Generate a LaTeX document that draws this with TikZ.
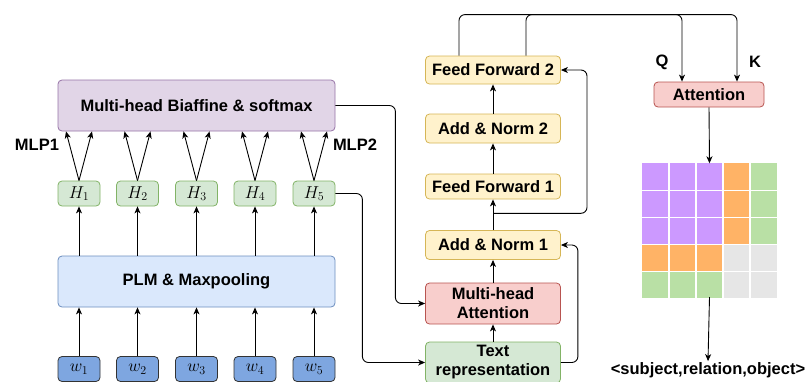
\documentclass[tikz,border=0pt]{standalone}
\usepackage{fontspec}
\setmainfont{Liberation Sans}
\usetikzlibrary{arrows.meta}
\definecolor{biapurple}{HTML}{E1D5E7}
\definecolor{biaedge}{HTML}{9673A6}
\definecolor{plmblue}{HTML}{DAE8FC}
\definecolor{plmedge}{HTML}{6C8EBF}
\definecolor{hgreen}{HTML}{D5E8D4}
\definecolor{hedge}{HTML}{82B366}
\definecolor{wblue}{HTML}{7EA6E0}
\definecolor{ffyellow}{HTML}{FFF2CC}
\definecolor{ffedge}{HTML}{D6B656}
\definecolor{attred}{HTML}{F8CECC}
\definecolor{attedge}{HTML}{B85450}
\definecolor{cellpurple}{HTML}{CC99FF}
\definecolor{cellorange}{HTML}{FFB366}
\definecolor{cellgreen}{HTML}{B9E0A5}
\definecolor{cellgray}{HTML}{E6E6E6}

\begin{document}
\begin{tikzpicture}[x=1pt, y=-1pt,
                    font=\fontsize{16.5}{19}\selectfont\bfseries,
                    box/.style={draw, rounded corners=4pt, line width=0.8pt, align=center, inner sep=0pt},
                    hbox/.style={box, fill=hgreen, draw=hedge, minimum width=42pt, minimum height=25pt},
                    wbox/.style={box, fill=wblue, draw=black!80, minimum width=42pt, minimum height=25pt},
                    ffbox/.style={box, fill=ffyellow, draw=ffedge, minimum width=135pt},
                    link/.style={line width=0.9pt, rounded corners=6pt},
                    arr/.style={link, -{Stealth[length=7pt, width=6pt, inset=2pt]}}]
                    \useasboundingbox (0,0) rectangle (808,381);

                    % left part: encoder and biaffine
                    \node[box, fill=biapurple, draw=biaedge, minimum width=277pt, minimum height=51pt] (bia) at (196.5,105.5) {Multi-head Biaffine \& softmax};
                    \node[box, fill=plmblue, draw=plmedge, minimum width=277pt, minimum height=51pt] (plm) at (196.5,281.5) {PLM \& Maxpooling};

                    \node[hbox] (h1) at (79,193.5) {$H_1$};
                    \node[hbox] (h2) at (137.5,193.5) {$H_2$};
                    \node[hbox] (h3) at (196.5,193.5) {$H_3$};
                    \node[hbox] (h4) at (255,193.5) {$H_4$};
                    \node[hbox] (h5) at (314,193.5) {$H_5$};

                    \node[wbox] (w1) at (79,369) {$w_1$};
                    \node[wbox] (w2) at (137.5,369) {$w_2$};
                    \node[wbox] (w3) at (196.5,369) {$w_3$};
                    \node[wbox] (w4) at (255,369) {$w_4$};
                    \node[wbox] (w5) at (314,369) {$w_5$};

                    \node (mlp1) at (37,145) {MLP1};
                    \node (mlp2) at (355,145) {MLP2};

                    \draw[arr] (w1.north) -- (w1.north |- plm.south);
                    \draw[arr] (w2.north) -- (w2.north |- plm.south);
                    \draw[arr] (w3.north) -- (w3.north |- plm.south);
                    \draw[arr] (w4.north) -- (w4.north |- plm.south);
                    \draw[arr] (w5.north) -- (w5.north |- plm.south);

                    \draw[arr] (h1.south |- plm.north) -- (h1.south);
                    \draw[arr] (h2.south |- plm.north) -- (h2.south);
                    \draw[arr] (h3.south |- plm.north) -- (h3.south);
                    \draw[arr] (h4.south |- plm.north) -- (h4.south);
                    \draw[arr] (h5.south |- plm.north) -- (h5.south);

                    \draw[arr] (h1.north) -- ([xshift=-13pt]h1.north |- bia.south);
                    \draw[arr] (h1.north) -- ([xshift=13pt]h1.north |- bia.south);
                    \draw[arr] (h2.north) -- ([xshift=-13pt]h2.north |- bia.south);
                    \draw[arr] (h2.north) -- ([xshift=13pt]h2.north |- bia.south);
                    \draw[arr] (h3.north) -- ([xshift=-13pt]h3.north |- bia.south);
                    \draw[arr] (h3.north) -- ([xshift=13pt]h3.north |- bia.south);
                    \draw[arr] (h4.north) -- ([xshift=-13pt]h4.north |- bia.south);
                    \draw[arr] (h4.north) -- ([xshift=13pt]h4.north |- bia.south);
                    \draw[arr] (h5.north) -- ([xshift=-13pt]h5.north |- bia.south);
                    \draw[arr] (h5.north) -- ([xshift=13pt]h5.north |- bia.south);

                    % middle part: transformer block
                    \node[ffbox, minimum height=28pt] (ff2) at (493,70) {Feed Forward 2};
                    \node[ffbox, minimum height=29pt] (an2) at (493,128.5) {Add \& Norm 2};
                    \node[ffbox, minimum height=25pt] (ff1) at (493,186.5) {Feed Forward 1};
                    \node[ffbox, minimum height=29pt] (an1) at (493,245) {Add \& Norm 1};
                    \node[box, fill=attred, draw=attedge, minimum width=135pt, minimum height=41pt] (mha) at (493,303.5) {Multi-head\\Attention};
                    \node[box, fill=hgreen, draw=hedge, minimum width=135pt, minimum height=41pt] (txt) at (493,362.5) {Text\\representation};
                    \coordinate (res) at (493,213.3);

                    \draw[arr] (txt) -- (mha);
                    \draw[arr] (mha) -- (an1);
                    \draw[arr] (an1) -- (ff1);
                    \draw[arr] (ff1) -- (an2);
                    \draw[arr] (an2) -- (ff2);

                    \draw[arr] (bia.east) -- ++(60,0) |- (mha.west);
                    \draw[arr] (h5.east) -- ++(27,0) |- (txt.west);
                    \draw[arr] (txt.east) -- ++(17,0) |- (an1.east);
                    \draw[arr] (res) -- ++(94,0) |- (ff2.east);

                    % right part: attention and grid
                    \node[box, fill=attred, draw=attedge, minimum width=110pt, minimum height=25pt] (att) at (709,94.5) {Attention};
                    \node (q) at (662,62) {Q};
                    \node (k) at (755,62) {K};

                    \draw[arr] ([xshift=-34pt]ff2.north) -- ++(0,-41) -| ([xshift=-27pt]att.north);
                    \draw[arr] ([xshift=33pt]ff2.north) -- ++(0,-41) -| ([xshift=28pt]att.north);

                    \fill[cellpurple] (642,163.3) rectangle ++(81,81);
                    \fill[cellorange] (723,163.3) rectangle ++(27,81);
                    \fill[cellgreen] (750,163.3) rectangle ++(27,81);
                    \fill[cellorange] (642,244.3) rectangle ++(81,27);
                    \fill[cellgreen] (642,271.3) rectangle ++(81,27);
                    \fill[cellgray] (723,244.3) rectangle ++(54,54);
                    \draw[white, line width=1.2pt] (669,163.3) -- (669,298.3);
                    \draw[white, line width=1.2pt] (696,163.3) -- (696,298.3);
                    \draw[white, line width=1.2pt] (723,163.3) -- (723,298.3);
                    \draw[white, line width=1.2pt] (750,163.3) -- (750,298.3);
                    \draw[white, line width=1.2pt] (642,190.3) -- (777,190.3);
                    \draw[white, line width=1.2pt] (642,217.3) -- (777,217.3);
                    \draw[white, line width=1.2pt] (642,244.3) -- (777,244.3);
                    \draw[white, line width=1.2pt] (642,271.3) -- (777,271.3);
                    \coordinate (gtop) at (709.5,163.3);
                    \coordinate (gbot) at (709.5,297);

                    \node[inner sep=1pt] (out) at (708,370) {<subject,relation,object>};

                    \draw[arr] (att.south) -- (gtop);
                    \draw[arr] (gbot) -- (out.north);
\end{tikzpicture}
\end{document}
